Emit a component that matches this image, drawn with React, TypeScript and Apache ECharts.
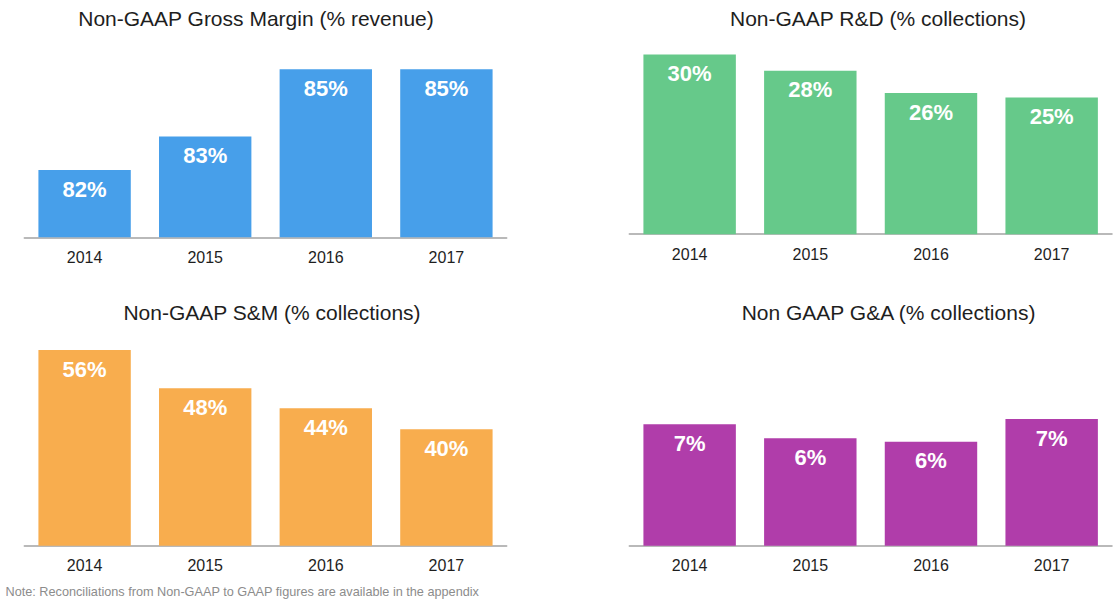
import React, { useEffect, useRef } from "react";
import * as echarts from "echarts";

const years = ["2014", "2015", "2016", "2017"];
const grossMargin = [82.0, 83.0, 85.0, 85.0];
const rdPct = [30.0, 28.2, 25.7, 25.2];
const smPct = [56.0, 48.2, 44.1, 39.8];
const gaPct = [7.0, 6.2, 6.0, 7.3];

const titles = [
  "Non-GAAP Gross Margin (% revenue)",
  "Non-GAAP R&D (% collections)",
  "Non-GAAP S&M (% collections)",
  "Non GAAP G&A (% collections)",
];
const note = "Note: Reconciliations from Non-GAAP to GAAP figures are available in the appendix";

const FONT = "'Liberation Sans', Arial, Helvetica, sans-serif";

export default function App() {
  const ref = useRef<HTMLDivElement>(null);
  useEffect(() => {
    document.body.style.margin = "0";
    const chart = echarts.init(ref.current!, null, { renderer: "svg" });
    const grids = [
      { left: 24.3, right: 610.3, top: 35.7, bottom: 366.7 },
      { left: 629.3, right: 5, top: 36.5, bottom: 369.8 },
      { left: 24.3, right: 610.3, top: 340.3, bottom: 58.3 },
      { left: 629.3, right: 5, top: 372.3, bottom: 58.3 },
    ];
    const yRanges = [
      [80, 86],
      [10, 32],
      [16, 58],
      [0, 10],
    ];
    const colors = ["#479FEA", "#66C98A", "#F8AD4E", "#B03DAA"];
    const datasets = [grossMargin, rdPct, smPct, gaPct];
    const titlePos = [
      [256, 18.5],
      [878, 18.5],
      [272, 312],
      [888.5, 312],
    ];

    const option: any = {
      animation: false,
      backgroundColor: "#ffffff",
      textStyle: { fontFamily: FONT },
      grid: grids.map((g) => ({ ...g, containLabel: false })),
      xAxis: grids.map((_, i) => ({
        type: "category",
        gridIndex: i,
        data: years,
        axisTick: { show: false },
        axisLine: { show: true, lineStyle: { color: "#a3a3a3", width: 1.5 } },
        axisLabel: { color: "#1e1e1e", fontSize: 16, margin: 12, fontFamily: FONT },
        splitLine: { show: false },
      })),
      yAxis: grids.map((_, i) => ({
        type: "value",
        gridIndex: i,
        min: yRanges[i][0],
        max: yRanges[i][1],
        show: false,
        splitLine: { show: false },
      })),
      series: datasets.map((d, i) => ({
        type: "bar",
        xAxisIndex: i,
        yAxisIndex: i,
        data: d,
        barCategoryGap: "23.4%",
        itemStyle: { color: colors[i] },
        label: {
          show: true,
          position: "insideTop",
          distance: 8,
          color: "#ffffff",
          fontWeight: "bold",
          fontSize: 22,
          fontFamily: FONT,
          formatter: (p: any) => Math.round(p.value) + "%",
        },
      })),
      graphic: [
        ...titles.map((t, i) => ({
          type: "text",
          x: titlePos[i][0],
          y: titlePos[i][1],
          style: {
            text: t,
            fontSize: 21,
            fontFamily: FONT,
            fill: "#1e1e1e",
            textAlign: "center",
            textVerticalAlign: "middle",
          },
        })),
        {
          type: "text",
          x: 5.5,
          y: 591.5,
          style: {
            text: note,
            fontSize: 12.7,
            fontFamily: FONT,
            fill: "#8c8c8c",
            textAlign: "left",
            textVerticalAlign: "middle",
          },
        },
      ],
    };
    chart.setOption(option);
    return () => chart.dispose();
  }, []);
  return (
    <div
      ref={ref}
      style={{ position: "absolute", left: 0, top: 0, width: 1117, height: 604 }}
    />
  );
}
